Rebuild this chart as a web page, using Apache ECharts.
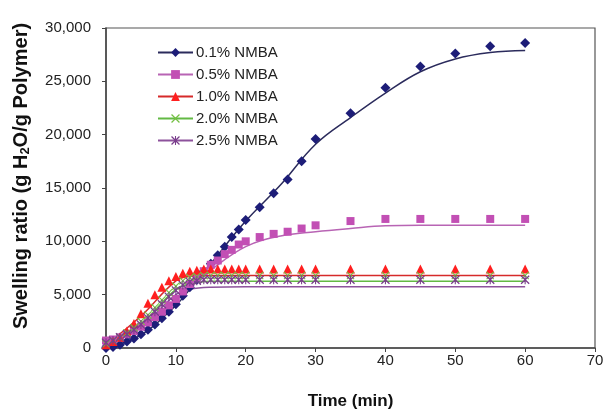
<!DOCTYPE html>
<html>
<head>
<meta charset="utf-8">
<script src="https://cdn.jsdelivr.net/npm/echarts@6/dist/echarts.min.js"></script>
<style>
  html,body{margin:0;padding:0;background:#fff;}
  #chart{width:610px;height:415px;}
</style>
</head>
<body>
<div id="chart"></div>
<script>
// measured points (min)
var tData = [0,1,2,3,4,5,6,7,8,9,10,11,12,13,14,15,16,17,18,19,20,22,24,26,28,30,35,40,45,50,55,60];
var nmba01 = [0,100,300,600,900,1300,1700,2200,2800,3400,4100,4900,5700,6400,7200,7900,8700,9500,10400,11100,12000,13200,14500,15800,17500,19600,22000,24400,26400,27600,28300,28600];
var nmba05 = [700,800,1000,1300,1600,2000,2400,2900,3400,4000,4600,5300,6000,6600,7200,7800,8200,8800,9200,9700,10000,10400,10700,10900,11200,11500,11900,12100,12100,12100,12100,12100];
var nmba10 = [300,600,1000,1600,2300,3200,4200,5000,5700,6300,6700,7000,7200,7300,7400,7400,7400,7400,7400,7400,7400,7400,7400,7400,7400,7400,7400,7400,7400,7400,7400,7400];
var nmba20 = [400,700,1000,1400,1900,2500,3100,3800,4500,5200,5800,6300,6600,6700,6800,6800,6800,6800,6800,6800,6800,6800,6800,6800,6800,6800,6800,6800,6800,6800,6800,6800];
var nmba25 = [500,700,1000,1300,1700,2200,2800,3400,4100,4800,5400,5900,6200,6300,6400,6400,6400,6400,6400,6400,6400,6400,6400,6400,6400,6400,6400,6400,6400,6400,6400,6400];

// fitted curves
var tFit = [0,5,10,12,15,20,25,30,35,40,45,50,55,60];
var fit01 = [0,1200,4000,5500,7900,11900,15300,19100,21600,23900,25900,27100,27700,27900];
var fit05 = [500,2000,4500,5600,7300,9500,10500,10900,11200,11450,11500,11500,11500,11500];
var fit10 = [300,3000,6300,6700,6800,6800,6800,6800,6800,6800,6800,6800,6800,6800];
var fit20 = [300,2300,5500,6000,6250,6250,6250,6250,6250,6250,6250,6250,6250,6250];
var fit25 = [300,2000,5000,5500,5700,5750,5750,5750,5750,5750,5750,5750,5750,5750];

var names = ['0.1% NMBA','0.5% NMBA','1.0% NMBA','2.0% NMBA','2.5% NMBA'];

function pairs(xs, ys){
  return xs.map(function(x,i){ return [x, ys[i]]; });
}

var crossPath = 'path://M0,1 L1,0 L5,4 L9,0 L10,1 L6,5 L10,9 L9,10 L5,6 L1,10 L0,9 L4,5 Z';
var starPath = 'path://M4.4,0 L5.6,0 L5.6,10 L4.4,10 Z M0,1 L1,0 L5,4 L9,0 L10,1 L6,5 L10,9 L9,10 L5,6 L1,10 L0,9 L4,5 Z';

var groups = [
  {name:names[0], pts:nmba01, fit:fit01, mark:'diamond', size:10, mcol:'#1d1d78', lcol:'#2b2b5c'},
  {name:names[1], pts:nmba05, fit:fit05, mark:'rect', size:8, mcol:'#c24fb4', lcol:'#b864b4'},
  {name:names[2], pts:nmba10, fit:fit10, mark:'triangle', size:9, mcol:'#ff1f1f', lcol:'#d62a2a'},
  {name:names[3], pts:nmba20, fit:fit20, mark:crossPath, size:8, mcol:'#74c043', lcol:'#63b944'},
  {name:names[4], pts:nmba25, fit:fit25, mark:starPath, size:9, mcol:'#7a3d8c', lcol:'#8d529c'}
];

var series = [];
groups.forEach(function(g){
  series.push({
    name:g.name,
    type:'line',
    smooth:0.4,
    showSymbol:false,
    symbol:g.mark,
    symbolSize:g.size,
    itemStyle:{color:g.mcol},
    lineStyle:{color:g.lcol, width:1.5},
    data:pairs(tFit, g.fit),
    z:2
  });
});
groups.forEach(function(g){
  series.push({
    name:g.name,
    type:'scatter',
    symbol:g.mark,
    symbolSize:g.size,
    itemStyle:{color:g.mcol, opacity:1},
    data:pairs(tData, g.pts),
    z:3
  });
});

var chart = echarts.init(document.getElementById('chart'));
var option = {
  animation:false,
  backgroundColor:'#fff',
  textStyle:{fontFamily:'Liberation Sans, Arial, sans-serif'},
  grid:{left:106, right:15, top:28, bottom:64, show:true, borderColor:'#555', borderWidth:1.2},
  legend:{
    data:names,
    orient:'vertical',
    left:157,
    top:45,
    padding:0,
    itemWidth:35,
    itemHeight:11,
    itemGap:7,
    textStyle:{fontSize:15, color:'#222', padding:[0,0,0,-2]}
  },
  xAxis:{
    type:'value',
    min:0, max:70, interval:10,
    name:'Time (min)',
    nameLocation:'middle',
    nameGap:45,
    nameTextStyle:{fontSize:17, fontWeight:'bold', color:'#111'},
    axisLine:{lineStyle:{color:'#444', width:1.5}},
    axisTick:{show:true, length:4, lineStyle:{color:'#444'}},
    axisLabel:{fontSize:15, color:'#222', margin:5},
    splitLine:{show:false}
  },
  yAxis:{
    type:'value',
    min:0, max:30000, interval:5000,
    name:'{n|Swelling ratio (g H}{s|2}{n|O/g Polymer)}',
    nameLocation:'middle',
    nameGap:74,
    nameTextStyle:{
      padding:[0,0,0,24],
      rich:{
        n:{fontSize:20, fontWeight:'bold', color:'#111'},
        s:{fontSize:13, fontWeight:'bold', color:'#111', padding:[8,0,0,0]}
      }
    },
    axisLine:{show:true, lineStyle:{color:'#444', width:1.5}},
    axisTick:{show:true, length:4, lineStyle:{color:'#444'}},
    axisLabel:{
      fontSize:15, color:'#222', margin:15, padding:[0,0,6,0],
      formatter:function(v){ return v.toLocaleString('en-US'); }
    },
    splitLine:{show:false}
  },
  series:series
};
chart.setOption(option);
</script>
</body>
</html>
